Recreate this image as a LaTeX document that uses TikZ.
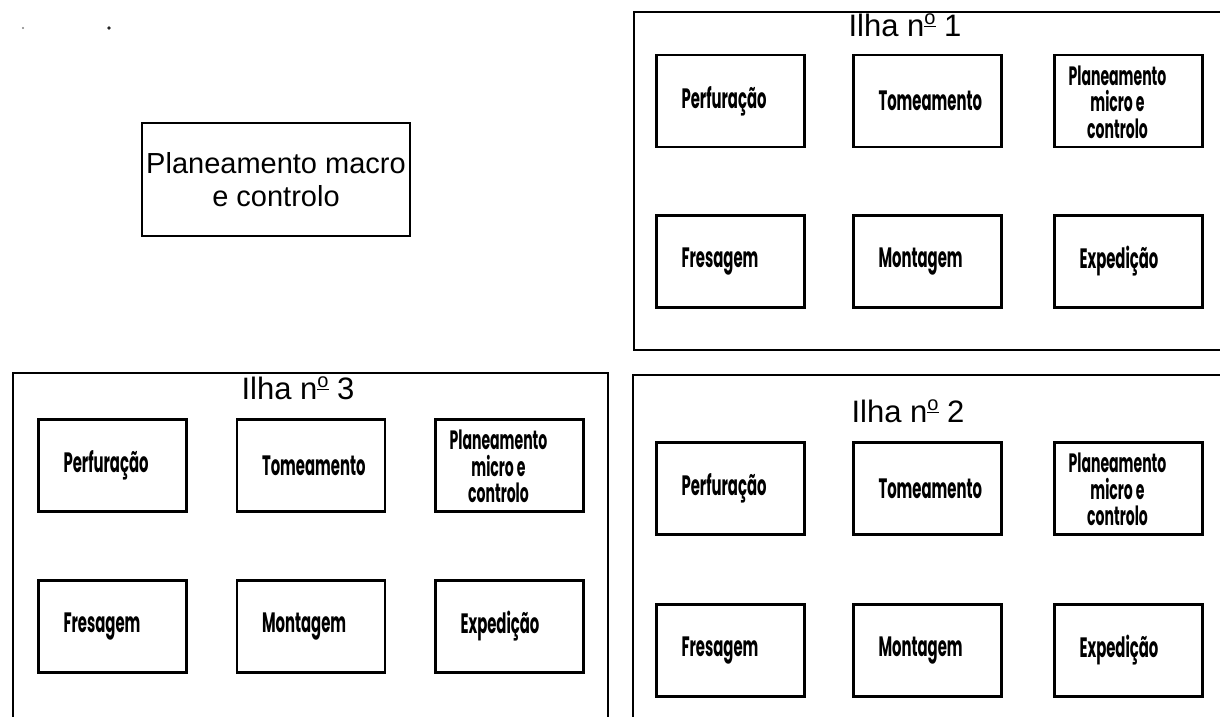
\documentclass[tikz,border=0pt]{standalone}
\usepackage{fontspec}
\setmainfont{Liberation Sans}
\newfontfamily\cellfont{Poppins}[FakeStretch=0.53]
% ordinal indicator drawn as a raised, underlined small o
\newcommand\ordmark{\raisebox{0.36em}{\fontsize{20}{20}\selectfont\underline{o}}}
\begin{document}
\begin{tikzpicture}[x=1pt,y=-1pt,
  frame/.style={draw=black, line width=2pt},
  cell/.style={draw=black, line width=2.6pt, minimum width=148pt, minimum height=92pt,
    inner sep=0pt, text width=98pt, align=left,
    font=\cellfont\bfseries\fontsize{28}{32}\selectfont},
  plantext/.style={inner sep=0pt, align=center,
    font=\cellfont\bfseries\fontsize{26.5}{26.5}\selectfont},
  title/.style={inner sep=0pt, font=\fontsize{31}{36}\selectfont},
  macrobox/.style={draw=black, line width=2pt, minimum width=268pt, minimum height=113pt,
    align=center, font=\fontsize{29}{33}\selectfont},
  dot/.style={circle, fill=#1, inner sep=0pt}]
\useasboundingbox (0,0) rectangle (1220,717);
\clip (0,0) rectangle (1220,717);

% stray marks at the top left
\node[dot=gray, minimum size=2.4pt] (d1) at (23,28) {};
\node[dot=black!85, minimum size=3.6pt] (d2) at (109,28) {};

% central planning
\node[macrobox] (macro) at (276,179.5) {Planeamento macro\\e controlo};

% island frames (open towards the page edges)
\draw[frame] (634,12) rectangle (1240,350);
\draw[frame] (13,373) rectangle (608,740);
\draw[frame] (633,375) rectangle (1240,740);

\node[title] (t1) at (905,25) {Ilha n\ordmark\ 1};
\node[title] (t3) at (298,388) {Ilha n\ordmark\ 3};
\node[title] (t2) at (908,411) {Ilha n\ordmark\ 2};

% island 1
\node[cell] (a1) at (730.5,101) {Perfuração};
\node[cell] (a2) at (927.5,101) {Tomeamento};
\node[cell] (a3) at (1128.5,101) {};
\node[plantext] (a3t) at ([xshift=-11pt,yshift=-1pt]a3.center) {Planeamento\\micro e\\controlo};
\node[cell] (a4) at (730.5,261.5) {Fresagem};
\node[cell] (a5) at (927.5,261.5) {Montagem};
\node[cell] (a6) at (1128.5,261.5) {Expedição};

% island 3
\node[cell] (c1) at (112.5,465.5) {Perfuração};
\node[cell] (c2) at (311,465.5) {Tomeamento};
\node[cell] (c3) at (509.5,465.5) {};
\node[plantext] (c3t) at ([xshift=-11pt,yshift=-1pt]c3.center) {Planeamento\\micro e\\controlo};
\node[cell] (c4) at (112.5,626.5) {Fresagem};
\node[cell] (c5) at (311,626.5) {Montagem};
\node[cell] (c6) at (509.5,626.5) {Expedição};

% island 2
\node[cell] (b1) at (730.5,488.5) {Perfuração};
\node[cell] (b2) at (927.5,488.5) {Tomeamento};
\node[cell] (b3) at (1128.5,488.5) {};
\node[plantext] (b3t) at ([xshift=-11pt,yshift=-1pt]b3.center) {Planeamento\\micro e\\controlo};
\node[cell] (b4) at (730.5,650.5) {Fresagem};
\node[cell] (b5) at (927.5,650.5) {Montagem};
\node[cell] (b6) at (1128.5,650.5) {Expedição};
\end{tikzpicture}
\end{document}
